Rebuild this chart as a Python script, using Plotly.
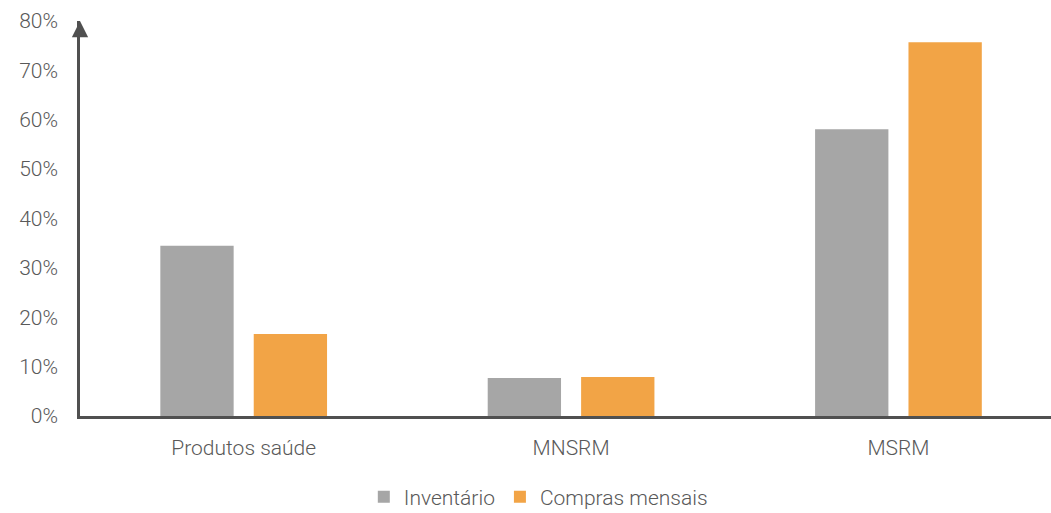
import plotly.graph_objects as go

categories = ["Produtos saúde", "MNSRM", "MSRM"]
inventario = [34.5, 7.7, 58.1]
compras = [16.6, 7.9, 75.7]
y_ticks = [0, 10, 20, 30, 40, 50, 60, 70, 80]
y_ticklabels = [f"{v}%" for v in y_ticks]

font_family = "Roboto, 'Open Sans', sans-serif"
text_color = "#595959"
axis_color = "#505050"

fig = go.Figure()
fig.add_trace(go.Bar(name="Inventário", x=categories, y=inventario,
                     marker=dict(color="#A6A6A6", line=dict(width=0))))
fig.add_trace(go.Bar(name="Compras mensais", x=categories, y=compras,
                     marker=dict(color="#F2A446", line=dict(width=0))))

fig.update_layout(
    width=1051, height=513,
    margin=dict(l=80, r=0, t=21, b=97, autoexpand=False),
    paper_bgcolor="white", plot_bgcolor="white",
    barmode="group", bargap=0.4294, bargroupgap=0.215,
    font=dict(family=font_family, color=text_color, size=21, weight=300),
    showlegend=True,
    legend=dict(orientation="h", x=0.472, xanchor="center",
                yref="container", y=0.031, yanchor="middle",
                font=dict(size=21, color=text_color, weight=300), itemwidth=30,
                traceorder="normal"),
    hovermode=False,
)
fig.update_xaxes(range=[-0.5, 2.466], showline=True, linecolor=axis_color, linewidth=2.5,
                 showgrid=False, ticks="", tickfont=dict(size=21, weight=300),
                 ticklabelstandoff=11)
fig.update_yaxes(range=[0, 80], tickvals=y_ticks, ticktext=y_ticklabels,
                 showline=True, linecolor=axis_color, linewidth=2.5,
                 showgrid=False, ticks="", zeroline=False,
                 tickfont=dict(size=21, weight=300), ticklabelstandoff=15)

# arrow head on the y axis
fig.add_annotation(xref="paper", yref="paper", x=0, y=1.0, ax=0, ay=12,
                   axref="pixel", ayref="pixel", showarrow=True,
                   arrowhead=2, arrowsize=1.3, arrowwidth=2.5, arrowcolor=axis_color,
                   text="")

fig.write_html("out.html")
